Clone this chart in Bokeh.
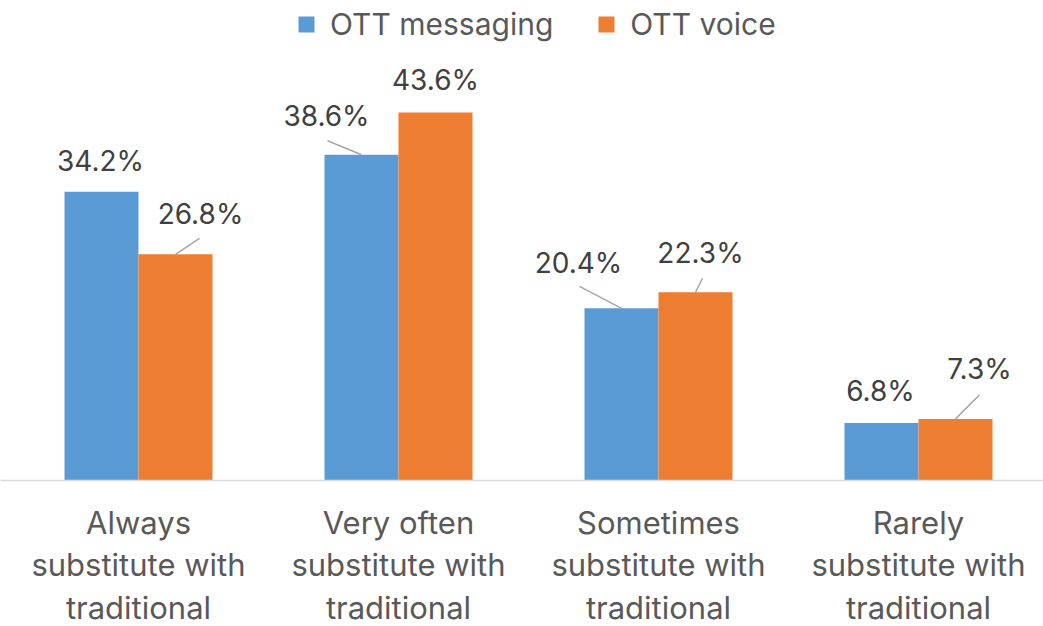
from bokeh.plotting import figure
from bokeh.models import ColumnDataSource, Range1d, Span, Legend, LegendItem
from bokeh.core.properties import value
from bokeh.embed import file_html
from bokeh.resources import INLINE

# ---- data ----
categories = ["Always\nsubstitute with\ntraditional",
              "Very often\nsubstitute with\ntraditional",
              "Sometimes\nsubstitute with\ntraditional",
              "Rarely\nsubstitute with\ntraditional"]
series_names = ["OTT messaging", "OTT voice"]
messaging = [34.2, 38.6, 20.4, 6.8]
voice = [26.8, 43.6, 22.3, 7.3]

# ---- styling / layout ----
W, H = 1043, 626
X0 = -138 / 260.0
X1 = X0 + W / 260.0
Y0, Y1 = -(H - 480) / 8.44, 480 / 8.44
PXX = W / (X1 - X0)
PXY = H / (Y1 - Y0)
BW = 74 / PXX
BLUE, ORANGE = "#5B9BD5", "#ED7D31"
FONT = "Inter"
LAB_SHIFT = -10

# label offsets (px) relative to bar top centre: (dx, dy) ; leader end (px) or None
lab_off_m = [(-1, -21), (-35, -29), (-43, -35), (-1, -22)]
lead_m = [None, (-34, -14), (-42, -22), None]
lab_off_v = [(25, -30), (0, -23), (5, -29), (24, -40)]
lead_v = [(24, -16), None, (7, -14), (24, -24)]

p = figure(width=W, height=H, output_backend="svg", toolbar_location=None,
           x_range=Range1d(X0, X1), y_range=Range1d(Y0, Y1), min_border=0)
p.axis.visible = False
p.grid.visible = False
p.outline_line_color = None
p.border_fill_color = "white"

idx = list(range(len(categories)))
xm = [i - BW / 2 for i in idx]
xv = [i + BW / 2 for i in idx]

rm = p.vbar(x=xm, top=messaging, bottom=0, width=BW, fill_color=BLUE, line_color=None)
rv = p.vbar(x=xv, top=voice, bottom=0, width=BW, fill_color=ORANGE, line_color=None)

p.add_layout(Span(location=0, dimension="width", line_color="#d9d9d9", line_width=1.5))

def labels(xs, vals, offs, leads):
    src = ColumnDataSource(dict(x=xs, y=vals,
                                t=[f"{v:.1f}%" for v in vals],
                                dx=[o[0] for o in offs],
                                dy=[o[1] + LAB_SHIFT for o in offs]))
    p.text(x="x", y="y", text="t", x_offset="dx", y_offset="dy", source=src,
           text_font=value(FONT), text_font_size="28px", text_color="#404040",
           text_align="center", text_baseline="alphabetic")
    sx, sy, ex, ey = [], [], [], []
    for x, v, l in zip(xs, vals, leads):
        if l is None:
            continue
        sx.append(x); sy.append(v)
        ex.append(x + l[0] / PXX); ey.append(v - l[1] / PXY)
    if sx:
        p.segment(x0=sx, y0=sy, x1=ex, y1=ey, line_color="#a6a6a6", line_width=1.5)

labels(xm, messaging, lab_off_m, lead_m)
labels(xv, voice, lab_off_v, lead_v)

p.text(x=idx, y=[0] * len(idx), text=categories, y_offset=23,
       text_font=value(FONT), text_font_size="31px", text_color="#595959",
       text_align="center", text_baseline="top", text_line_height=1.15)

legend = Legend(items=[LegendItem(label=series_names[0], renderers=[rm]),
                       LegendItem(label=series_names[1], renderers=[rv])],
                orientation="horizontal", location=(296, 584),
                padding=0, margin=0, spacing=43, label_standoff=14,
                glyph_width=20, glyph_height=20, label_height=34,
                label_text_font=FONT, label_text_font_size="30px",
                label_text_color="#595959", border_line_color=None,
                background_fill_alpha=0)
p.add_layout(legend)

open("out.html", "w").write(file_html(p, INLINE))
